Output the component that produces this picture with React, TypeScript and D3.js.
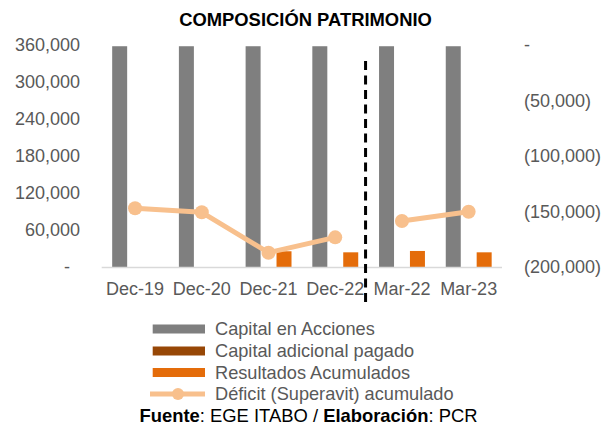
import { useEffect } from 'react';
import * as d3 from 'd3';

// chart data
const categories = ['Dec-19', 'Dec-20', 'Dec-21', 'Dec-22', 'Mar-22', 'Mar-23'];
const capitalAcciones = [358000, 358000, 358000, 358000, 358000, 358000];
const capitalAdicional = [0, 0, 0, 0, 0, 0];
const resultadosAcumulados = [0, 0, 25500, 23800, 26000, 23800];
const deficitAcumulado = [-147100, -150700, -187100, -173300, -158600, -150200];

const barSeries = ['Capital en Acciones', 'Capital adicional pagado', 'Resultados Acumulados'];
const lineSeries = 'Déficit (Superavit) acumulado';
const barColors = ['#7F7F7F', '#974706', '#E46C0A'];
const lineColor = '#F8C08D';

const leftTicks = [0, 60000, 120000, 180000, 240000, 300000, 360000];
const rightTicks = [0, -50000, -100000, -150000, -200000];

// the line is split where the period changes (annual -> quarterly)
const periodBreak = 4;

const FONT = '"Liberation Sans", Arial, sans-serif';
const AXIS_TEXT = '#595959';

const W = 605;
const H = 428;
const plot = { left: 101.7, right: 502, top: 45, bottom: 267 };

const fmtNum = d3.format(',');
const fmtLeft = (v: number) => (v === 0 ? '-' : fmtNum(v));
const fmtRight = (v: number) => (v === 0 ? '-' : v < 0 ? `(${fmtNum(-v)})` : fmtNum(v));

export default function App() {
  useEffect(() => {
    document.body.style.margin = '0';
  }, []);

  const x = d3.scaleBand<string>().domain(categories).range([plot.left, plot.right]).padding(0);
  const xInner = d3
    .scaleBand<string>()
    .domain(barSeries)
    .range([x.bandwidth() * 0.157, x.bandwidth() * 0.845])
    .paddingInner(0.03);
  const yLeft = d3.scaleLinear().domain([0, 360000]).range([plot.bottom, plot.top]);
  const yRight = d3.scaleLinear().domain([-200000, 0]).range([plot.bottom, plot.top]);

  const barValues = [capitalAcciones, capitalAdicional, resultadosAcumulados];

  const points = deficitAcumulado.map((v, i) => ({
    x: (x(categories[i]) ?? 0) + x.bandwidth() / 2,
    y: yRight(v),
  }));
  const segLine = d3
    .line<{ x: number; y: number }>()
    .x((d) => d.x)
    .y((d) => d.y);
  const segments = [points.slice(0, periodBreak), points.slice(periodBreak)];

  const breakX = (x(categories[periodBreak]) ?? 0) - 3;

  const legendY = [329, 351, 372.5, 394];

  return (
    <svg width={W} height={H} style={{ display: 'block', fontFamily: FONT }}>
      <rect width={W} height={H} fill="#fff" />
      <text x={305.5} y={26} textAnchor="middle" fontSize={18.4} fontWeight="bold" fill="#000">
        COMPOSICIÓN PATRIMONIO
      </text>

      {/* left axis */}
      {leftTicks.map((t) => (
        <text
          key={`l${t}`}
          x={t === 0 ? 70 : 80}
          y={yLeft(t)}
          dy="0.35em"
          textAnchor="end"
          fontSize={18}
          fill={AXIS_TEXT}
        >
          {fmtLeft(t)}
        </text>
      ))}

      {/* right axis */}
      {rightTicks.map((t) => (
        <text key={`r${t}`} x={524} y={yRight(t)} dy="0.35em" textAnchor="start" fontSize={18} fill={AXIS_TEXT}>
          {fmtRight(t)}
        </text>
      ))}

      {/* bars */}
      {barSeries.map((s, si) =>
        categories.map((c, ci) => {
          const v = barValues[si][ci];
          if (!v) return null;
          return (
            <rect
              key={`${s}-${c}`}
              x={(x(c) ?? 0) + (xInner(s) ?? 0)}
              y={yLeft(v)}
              width={xInner.bandwidth()}
              height={yLeft(0) - yLeft(v)}
              fill={barColors[si]}
            />
          );
        })
      )}

      {/* baseline */}
      <line x1={plot.left} x2={plot.right} y1={plot.bottom + 0.5} y2={plot.bottom + 0.5} stroke="#D9D9D9" strokeWidth={1.5} />

      {/* deficit line */}
      {segments.map((seg, i) => (
        <path key={`seg${i}`} d={segLine(seg) ?? ''} fill="none" stroke={lineColor} strokeWidth={5} strokeLinejoin="round" />
      ))}
      {points.map((p, i) => (
        <circle key={`pt${i}`} cx={p.x} cy={p.y} r={7} fill={lineColor} />
      ))}

      {/* x labels */}
      {categories.map((c) => (
        <text
          key={`x${c}`}
          x={(x(c) ?? 0) + x.bandwidth() / 2}
          y={295}
          textAnchor="middle"
          fontSize={18}
          fill={AXIS_TEXT}
        >
          {c}
        </text>
      ))}

      {/* period divider */}
      <line x1={breakX} x2={breakX} y1={61} y2={302} stroke="#000" strokeWidth={3} strokeDasharray="9,5.5" />

      {/* legend */}
      {barSeries.map((s, i) => (
        <g key={`lg${s}`} transform={`translate(0,${legendY[i]})`}>
          <rect x={152.7} y={-4.5} width={52.3} height={9} fill={barColors[i]} />
          <text x={215} y={0} dy="0.35em" fontSize={18.2} fill={AXIS_TEXT}>
            {s}
          </text>
        </g>
      ))}
      <g transform={`translate(0,${legendY[3]})`}>
        <line x1={150} x2={205} y1={0} y2={0} stroke={lineColor} strokeWidth={5} />
        <circle cx={178} cy={0} r={6} fill={lineColor} />
        <text x={215} y={0} dy="0.35em" fontSize={18.2} fill={AXIS_TEXT}>
          {lineSeries}
        </text>
      </g>

      {/* source */}
      <text x={308.5} y={422} textAnchor="middle" fontSize={18.4} fill="#000">
        <tspan fontWeight="bold">Fuente</tspan>
        <tspan>: EGE ITABO / </tspan>
        <tspan fontWeight="bold">Elaboración</tspan>
        <tspan>: PCR</tspan>
      </text>
    </svg>
  );
}
